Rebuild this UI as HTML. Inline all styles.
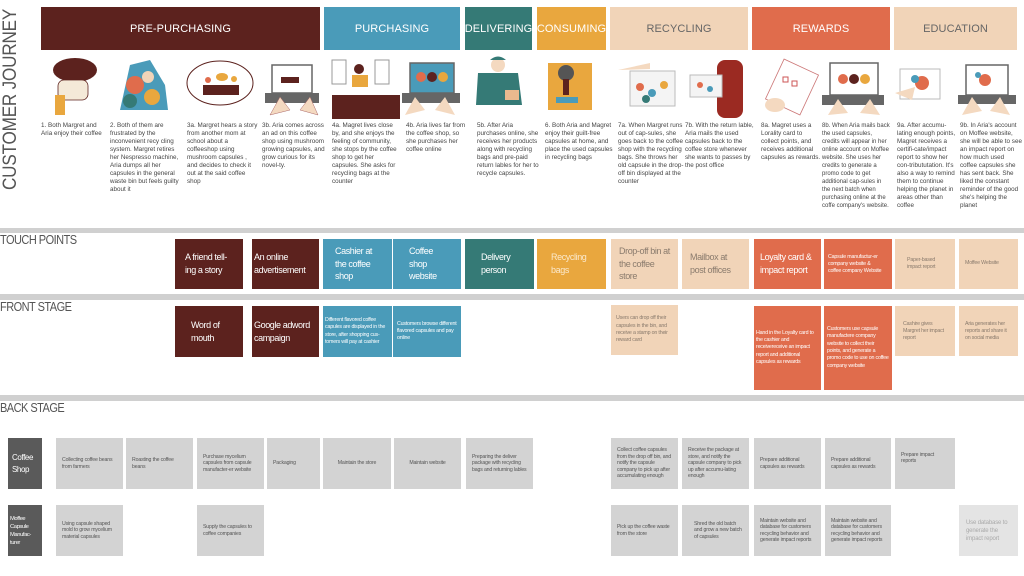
<!DOCTYPE html>
<html><head><meta charset="utf-8"><style>
*{margin:0;padding:0;box-sizing:border-box}
body{width:1024px;height:576px;background:#fff;position:relative;overflow:hidden;font-family:"Liberation Sans",sans-serif}
.a{position:absolute}
.h{position:absolute;top:7px;height:43px;color:#fff;font-size:11px;display:flex;align-items:center;justify-content:center;letter-spacing:.1px}
.cap{position:absolute;top:122px;font-size:6.3px;line-height:8px;color:#444;width:72px}
.sep{position:absolute;left:0;width:1024px;background:#d0d0d0}
.lab{position:absolute;left:0;font-size:12.5px;color:#555;letter-spacing:-.6px;transform-origin:0 0;transform:scaleX(.88)}
.b{position:absolute;display:flex;align-items:center;padding:0 6px;color:#fff;line-height:1.4;letter-spacing:-.4px}
.bs{position:absolute;background:#d3d3d3;color:#555;font-size:5.2px;line-height:6.4px;display:flex;align-items:center;padding:0 6px;letter-spacing:-.15px}
</style></head><body>
<div class="a" style="left:0px;top:190px;transform-origin:0 0;transform:rotate(-90deg) scaleX(.9);font-size:19px;color:#555;white-space:nowrap;letter-spacing:-.2px">CUSTOMER JOURNEY</div>

<div class="h" style="left:41px;width:279px;background:#5c221e">PRE-PURCHASING</div>
<div class="h" style="left:324px;width:136px;background:#4a9bb9">PURCHASING</div>
<div class="h" style="left:465px;width:67px;background:#357a76">DELIVERING</div>
<div class="h" style="left:537px;width:69px;background:#e9a73e">CONSUMING</div>
<div class="h" style="left:610px;width:138px;background:#f1d4b8;color:#666">RECYCLING</div>
<div class="h" style="left:752px;width:138px;background:#e06c4c">REWARDS</div>
<div class="h" style="left:894px;width:123px;background:#f1d4b8;color:#666">EDUCATION</div>

<svg class="a" style="left:0;top:55px" width="1024" height="65">
<g>
<ellipse cx="75" cy="15" rx="22" ry="12" fill="#5c221e"/><rect x="58" y="25" width="30" height="20" rx="6" fill="#f4e9d8" stroke="#5c221e" stroke-width=".8"/><rect x="55" y="40" width="10" height="20" fill="#e9a73e"/>
<path d="M120 55 L130 10 L150 5 L165 30 L168 55Z" fill="#4a9bb9"/><circle cx="135" cy="30" r="9" fill="#e06c4c"/><circle cx="152" cy="42" r="8" fill="#e9a73e"/><circle cx="130" cy="46" r="7" fill="#357a76"/><circle cx="148" cy="22" r="6" fill="#f1d4b8"/>
<ellipse cx="220" cy="28" rx="33" ry="22" fill="#fff" stroke="#5c221e" stroke-width="1"/><rect x="203" y="30" width="36" height="10" fill="#5c221e"/><circle cx="208" cy="25" r="3" fill="#e06c4c"/><ellipse cx="222" cy="22" rx="6" ry="4" fill="#e9a73e"/><circle cx="234" cy="24" r="3" fill="#e9a73e"/>
<rect x="272" y="10" width="40" height="28" fill="#fff" stroke="#666" stroke-width="1.5"/><rect x="265" y="38" width="54" height="10" fill="#666"/><rect x="281" y="22" width="18" height="6" fill="#5c221e"/><path d="M270 60 L280 42 L290 55Z M300 55 L310 42 L318 60Z" fill="#f4d9c0" stroke="#a66" stroke-width=".5"/>
<rect x="332" y="5" width="14" height="24" fill="#fff" stroke="#999"/><rect x="375" y="5" width="14" height="24" fill="#fff" stroke="#999"/><circle cx="359" cy="14" r="5" fill="#5c221e"/><rect x="352" y="20" width="16" height="12" fill="#e9a73e"/><rect x="332" y="40" width="68" height="24" fill="#5c221e"/>
<rect x="410" y="8" width="44" height="30" fill="#4a9bb9" stroke="#666" stroke-width="1.5"/><circle cx="421" cy="22" r="5" fill="#e06c4c"/><circle cx="432" cy="22" r="5" fill="#5c221e"/><circle cx="443" cy="22" r="5" fill="#e9a73e"/><rect x="402" y="38" width="58" height="10" fill="#666"/><path d="M405 60 L415 42 L425 55Z M435 55 L445 42 L455 60Z" fill="#f4d9c0"/>
<circle cx="498" cy="10" r="7" fill="#f4d9c0"/><path d="M490 5 Q498 -2 506 5Z" fill="#357a76"/><path d="M478 18 L518 18 L522 50 L476 50Z" fill="#357a76"/><rect x="505" y="35" width="14" height="10" fill="#e9b98e"/>
<path d="M548 8 L592 8 L592 55 L548 55Z" fill="#e9a73e"/><circle cx="566" cy="18" r="8" fill="#555"/><rect x="563" y="24" width="6" height="16" fill="#5c221e"/><rect x="556" y="42" width="22" height="6" fill="#4a9bb9"/>
<rect x="630" y="16" width="45" height="35" fill="#f4f4f4" stroke="#bbb"/><circle cx="640" cy="32" r="4" fill="#e06c4c"/><circle cx="652" cy="38" r="4" fill="#4a9bb9"/><circle cx="664" cy="30" r="4" fill="#e9a73e"/><circle cx="646" cy="44" r="4" fill="#357a76"/><path d="M618 15 L650 8 L650 14Z" fill="#f4d9c0"/>
<rect x="717" y="5" width="26" height="58" rx="8" fill="#9b2a22"/><rect x="690" y="20" width="32" height="22" fill="#f4f4f4" stroke="#bbb"/><circle cx="700" cy="30" r="3" fill="#e06c4c"/><circle cx="710" cy="34" r="3" fill="#4a9bb9"/>
<rect x="773" y="10" width="38" height="44" fill="#fff" stroke="#c77" stroke-width=".8" transform="rotate(25 792 32)"/><rect x="783" y="22" width="5" height="5" fill="none" stroke="#c55"/><rect x="792" y="26" width="5" height="5" fill="none" stroke="#c55"/><ellipse cx="775" cy="50" rx="10" ry="7" fill="#f4d9c0"/>
<rect x="830" y="8" width="48" height="32" fill="#fff" stroke="#666" stroke-width="1.5"/><circle cx="843" cy="24" r="5" fill="#e06c4c"/><circle cx="854" cy="24" r="5" fill="#5c221e"/><circle cx="865" cy="24" r="5" fill="#e9a73e"/><rect x="822" y="40" width="62" height="10" fill="#666"/><path d="M828 60 L838 44 L848 58Z M860 58 L870 44 L880 60Z" fill="#f4d9c0"/>
<rect x="900" y="14" width="40" height="30" fill="#fff" stroke="#bbb"/><circle cx="922" cy="28" r="7" fill="#e06c4c"/><circle cx="915" cy="24" r="4" fill="#4a9bb9"/><path d="M895 38 L915 32 L912 45Z" fill="#f4d9c0"/>
<rect x="966" y="10" width="42" height="30" fill="#fff" stroke="#666" stroke-width="1.5"/><circle cx="985" cy="25" r="6" fill="#e06c4c"/><circle cx="978" cy="20" r="3" fill="#4a9bb9"/><rect x="958" y="40" width="58" height="9" fill="#666"/><path d="M962 60 L972 42 L982 56Z M990 56 L1000 42 L1010 60Z" fill="#f4d9c0"/>
</g></svg>

<div class="cap" style="left:41px;width:68px">1. Both Margret and Aria enjoy their coffee</div>
<div class="cap" style="left:110px">2. Both of them are frustrated by the inconvenient recy cling system. Margret retires her Nespresso machine, Aria dumps all her capsules in the general waste bin but feels guilty about it</div>
<div class="cap" style="left:187px">3a. Margret hears a story from another mom at school about a coffeeshop using mushroom capsules , and decides to check it out at the said coffee shop</div>
<div class="cap" style="left:262px;width:66px">3b. Aria comes across an ad on this coffee shop using mushroom growing capsules, and grow curious for its novel-ty.</div>
<div class="cap" style="left:332px;width:68px">4a. Magret lives close by, and she enjoys the feeling of community, she stops by the coffee shop to get her capsules. She asks for recycling bags at the counter</div>
<div class="cap" style="left:406px;width:62px">4b. Aria lives far from the coffee shop, so she purchases her coffee online</div>
<div class="cap" style="left:477px;width:62px">5b. After Aria purchases online, she receives her products along with recycling bags and pre-paid return lables for her to recycle capsules.</div>
<div class="cap" style="left:545px;width:68px">6. Both Aria and Magret enjoy their guilt-free capsules at home, and place the used capsules in recycling bags</div>
<div class="cap" style="left:618px;width:66px">7a. When Margret runs out of cap-sules, she goes back to the coffee shop with the recycling bags. She throws her old capsule in the drop-off bin displayed at the counter</div>
<div class="cap" style="left:685px;width:72px">7b. With the return lable, Aria mails the used capsules back to the coffee store whenever she wants to passes by the post office</div>
<div class="cap" style="left:761px;width:60px">8a. Magret uses a Lorality card to collect points, and receives additional capsules as rewards.</div>
<div class="cap" style="left:822px;width:68px;font-size:6px">8b. When Aria mails back the used capsules, credits will appear in her online account on Moffee website. She uses her credits to generate a promo code to get additional cap-sules in the next batch when purchasing online at the coffe company's website.</div>
<div class="cap" style="left:897px;width:62px">9a. After accumu-lating enough points, Magret receives a certifi-cate/impact report to show her con-tribututation. It's also a way to remind them to continue helping the planet in areas other than coffee</div>
<div class="cap" style="left:960px;width:62px">9b. In Aria's account on Moffee website, she will be able to see an impact report on how much used coffee capsules she has sent back. She liked the constant reminder of the good she's helping the planet</div>

<div class="sep" style="top:228px;height:5px"></div>
<div class="lab" style="top:233px">TOUCH POINTS</div>
<div class="b" style="left:175px;top:239px;width:68px;height:50px;background:#5c221e;font-size:9px;padding:0 10px">A friend tell-ing a story</div>
<div class="b" style="left:252px;top:239px;width:67px;height:50px;background:#5c221e;font-size:9px;padding:0 2px">An online advertisement</div>
<div class="b" style="left:323px;top:239px;width:69px;height:50px;background:#4a9bb9;font-size:9px;padding:0 12px">Cashier at the coffee shop</div>
<div class="b" style="left:393px;top:239px;width:68px;height:50px;background:#4a9bb9;font-size:9px;padding:0 16px">Coffee shop website</div>
<div class="b" style="left:465px;top:239px;width:69px;height:50px;background:#357a76;font-size:9px;padding:0 16px">Delivery person</div>
<div class="b" style="left:537px;top:239px;width:69px;height:50px;background:#e9a73e;font-size:9px;padding:0 14px;color:#fbe9cc">Recycling bags</div>
<div class="b" style="left:611px;top:239px;width:67px;height:50px;background:#f1d4b8;font-size:9px;padding:0 8px;color:#8a7b6d">Drop-off bin at the coffee store</div>
<div class="b" style="left:682px;top:239px;width:67px;height:50px;background:#f1d4b8;font-size:9px;padding:0 8px;color:#8a7b6d">Mailbox at post offices</div>
<div class="b" style="left:754px;top:239px;width:67px;height:50px;background:#e06c4c;font-size:9px;padding:0 6px">Loyalty card &amp; impact report</div>
<div class="b" style="left:824px;top:239px;width:68px;height:50px;background:#e06c4c;font-size:5.3px;line-height:7px;padding:0 4px;letter-spacing:-.2px">Capsule manufactur-er company website &amp;<br>coffee company Website</div>
<div class="b" style="left:895px;top:239px;width:60px;height:50px;background:#f1d4b8;font-size:5.3px;line-height:7px;padding:0 12px;color:#8a7b6d;letter-spacing:-.2px">Paper-based impact report</div>
<div class="b" style="left:959px;top:239px;width:59px;height:50px;background:#f1d4b8;font-size:5.3px;padding:0 6px;color:#8a7b6d;letter-spacing:-.2px">Moffee Website</div>

<div class="sep" style="top:294px;height:6px"></div>
<div class="lab" style="top:300px">FRONT STAGE</div>
<div class="b" style="left:175px;top:306px;width:68px;height:51px;background:#5c221e;font-size:9px;padding:0 16px">Word of mouth</div>
<div class="b" style="left:252px;top:306px;width:67px;height:51px;background:#5c221e;font-size:9px;padding:0 2px">Google adword campaign</div>
<div class="b" style="left:323px;top:306px;width:69px;height:51px;background:#4a9bb9;font-size:5.3px;line-height:7.3px;padding:0 2px;letter-spacing:-.2px">Different flavored coffee capules are displayed in the store, after shopping cus-tomers will pay at cashier</div>
<div class="b" style="left:393px;top:306px;width:68px;height:51px;background:#4a9bb9;font-size:5.3px;line-height:7.3px;padding:0 4px;letter-spacing:-.2px">Customers browse different flavored capsules and pay online</div>
<div class="b" style="left:611px;top:305px;width:67px;height:50px;background:#f1d4b8;font-size:5.3px;line-height:7.3px;padding:0 5px;color:#8a7b6d;letter-spacing:-.2px">Users can drop off their capsules in the bin, and receive a stamp on their reward card</div>
<div class="b" style="left:754px;top:306px;width:67px;height:84px;background:#e06c4c;font-size:5.3px;line-height:7.3px;padding:0 2px;letter-spacing:-.2px">Hand in the Loyalty card to the cashier and receivereceive an impact report and additional capsules as rewards</div>
<div class="b" style="left:824px;top:306px;width:68px;height:84px;background:#e06c4c;font-size:5.3px;line-height:7.3px;padding:0 3px;letter-spacing:-.2px">Customers use capsule manufactere company website to collect their points, and generate a promo code to use on coffee company website</div>
<div class="b" style="left:895px;top:306px;width:60px;height:50px;background:#f1d4b8;font-size:5.3px;line-height:7px;padding:0 8px;color:#8a7b6d;letter-spacing:-.2px">Cashire gives Margret her impact report</div>
<div class="b" style="left:959px;top:306px;width:59px;height:50px;background:#f1d4b8;font-size:5.3px;line-height:7px;padding:0 6px;color:#8a7b6d;letter-spacing:-.2px">Aria generates her reports and share it on social media</div>

<div class="sep" style="top:395px;height:6px"></div>
<div class="lab" style="top:401px">BACK STAGE</div>

<div class="b" style="left:8px;top:438px;width:34px;height:51px;background:#5a5a5a;font-size:8px;padding:0 4px">Coffee Shop</div>
<div class="b" style="left:8px;top:505px;width:34px;height:51px;background:#5a5a5a;font-size:5.8px;line-height:8px;padding:0 2px">Moffee Capsule Manufac-turer</div>

<div class="bs" style="left:56px;top:438px;width:67px;height:51px">Collecting coffee beans from farmers</div>
<div class="bs" style="left:126px;top:438px;width:67px;height:51px">Roasting the coffee beans</div>
<div class="bs" style="left:197px;top:438px;width:67px;height:51px">Purchase mycelium capsules from capsule manufacter-er website</div>
<div class="bs" style="left:267px;top:438px;width:53px;height:51px">Packaging</div>
<div class="bs" style="left:323px;top:438px;width:68px;height:51px;justify-content:center">Maintain the store</div>
<div class="bs" style="left:394px;top:438px;width:67px;height:51px;justify-content:center">Maintain website</div>
<div class="bs" style="left:466px;top:438px;width:67px;height:51px">Preparing the deliver package with recycling bags and returning lables</div>
<div class="bs" style="left:611px;top:438px;width:67px;height:51px">Collect coffee capsules from the drop off bin, and notify the capsule company to pick up after accumulating enough</div>
<div class="bs" style="left:682px;top:438px;width:67px;height:51px">Receive the package at store, and notify the capsule company to pick up after accumu-lating enough</div>
<div class="bs" style="left:754px;top:438px;width:67px;height:51px">Prepare additional capsules as rewards</div>
<div class="bs" style="left:825px;top:438px;width:66px;height:51px">Prepare additional capsules as rewards</div>
<div class="bs" style="left:895px;top:438px;width:60px;height:51px;align-items:flex-start;padding-top:14px">Prepare impact reports</div>

<div class="bs" style="left:56px;top:505px;width:67px;height:51px">Using capsule shaped mold to grow mycelium material capsules</div>
<div class="bs" style="left:197px;top:505px;width:67px;height:51px">Supply the capsules to coffee companies</div>
<div class="bs" style="left:611px;top:505px;width:67px;height:51px">Pick up the coffee waste from the store</div>
<div class="bs" style="left:682px;top:505px;width:67px;height:51px;padding-left:12px">Shred the old batch and grow a new batch of capsules</div>
<div class="bs" style="left:754px;top:505px;width:67px;height:51px">Maintain website and database for customers recycling behavior and generate impact reports</div>
<div class="bs" style="left:825px;top:505px;width:66px;height:51px">Maintain website and database for customers recycling behavior and generate impact reports</div>
<div class="bs" style="left:959px;top:505px;width:59px;height:51px;background:#e4e4e4;color:#aaa;font-size:6px;line-height:8px;padding:0 7px">Use database to generate the impact report</div>
</body></html>
